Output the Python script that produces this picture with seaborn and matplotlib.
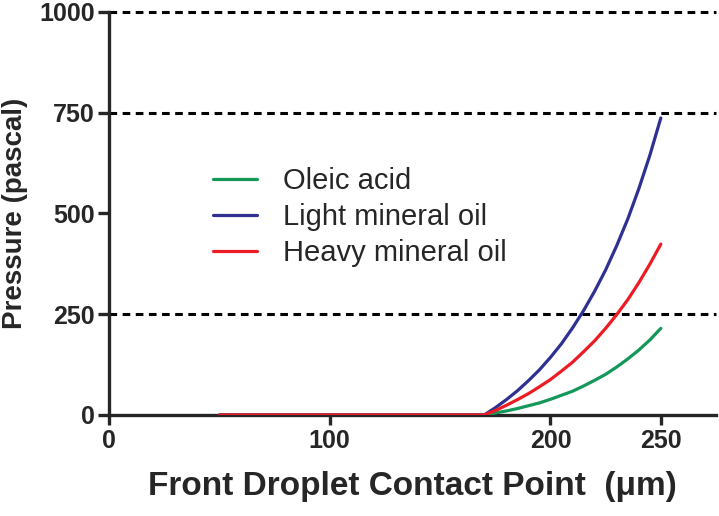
import pandas as pd
import matplotlib
matplotlib.use('Agg')
import matplotlib.pyplot as plt
import seaborn as sns

# valores (posição x em µm, pressão em Pa)
x_pos = [50, 170, 175, 180, 185, 190, 195, 200, 205, 210, 215, 220, 225, 230, 235, 240, 245, 250]
oleic = [0, 0, 5, 10, 16, 23, 30, 39, 49, 59, 72, 86, 101, 119, 139, 161, 186, 215]
light = [0, 0, 18, 38, 60, 85, 112, 143, 177, 216, 259, 307, 360, 420, 486, 561, 644, 737]
heavy = [0, 0, 11, 24, 38, 53, 70, 88, 109, 131, 157, 184, 215, 249, 286, 328, 374, 424]
series_names = ['Oleic acid', 'Light mineral oil', 'Heavy mineral oil']
cores = ['#13985a', '#2e3192', '#ed1c24']
y_ticks = [0, 250, 500, 750, 1000]
x_ticks = [0, 100, 200, 250]
grid_y = [250, 750, 1000]

df = pd.DataFrame({
    'x': x_pos * 3,
    'p': oleic + light + heavy,
    'fluido': [series_names[0]] * len(x_pos) + [series_names[1]] * len(x_pos) + [series_names[2]] * len(x_pos),
})

sns.set_style('ticks')
plt.rcParams['font.family'] = ['Liberation Sans', 'DejaVu Sans']

fig = plt.figure(figsize=(7.19, 5.16), dpi=100)
ax = fig.add_axes([109 / 719, 101 / 516, 607 / 719, 403 / 516])

# linhas tracejadas horizontais
for g in grid_y:
    ax.axhline(g, color='black', lw=2.2, ls=(0, (2.5, 1.8)), zorder=1, clip_on=False)

sns.lineplot(data=df, x='x', y='p', hue='fluido', hue_order=series_names,
             palette=cores, lw=2.3, ax=ax, zorder=3, legend=True)

ax.set_xlim(0, 275)
ax.set_ylim(0, 1000)
ax.set_xticks(x_ticks)
ax.set_yticks(y_ticks)
for s in ['top', 'right']:
    ax.spines[s].set_visible(False)
for s in ['left', 'bottom']:
    ax.spines[s].set_linewidth(2.4)
ax.spines['left'].set_zorder(4)
ax.tick_params(axis='y', length=8, width=2.4, labelsize=18, pad=2)
ax.tick_params(axis='x', length=7, width=2.4, labelsize=18, pad=3)
for lab in ax.get_xticklabels() + ax.get_yticklabels():
    lab.set_fontweight('bold')

ax.set_xlabel('Front Droplet Contact Point  (μm)', fontsize=24, fontweight='bold', labelpad=13)
ax.set_ylabel('Pressure (pascal)', fontsize=20, fontweight='bold', labelpad=8)

ax.legend(loc='upper left', bbox_to_anchor=(0.171, 0.615), frameon=False,
          fontsize=21, handlelength=1.5, handletextpad=0.9, labelspacing=0.27,
          borderpad=0, borderaxespad=0)
for ln in ax.get_legend().get_lines():
    ln.set_linewidth(2.3)

fig.savefig('out.png', dpi=100)
